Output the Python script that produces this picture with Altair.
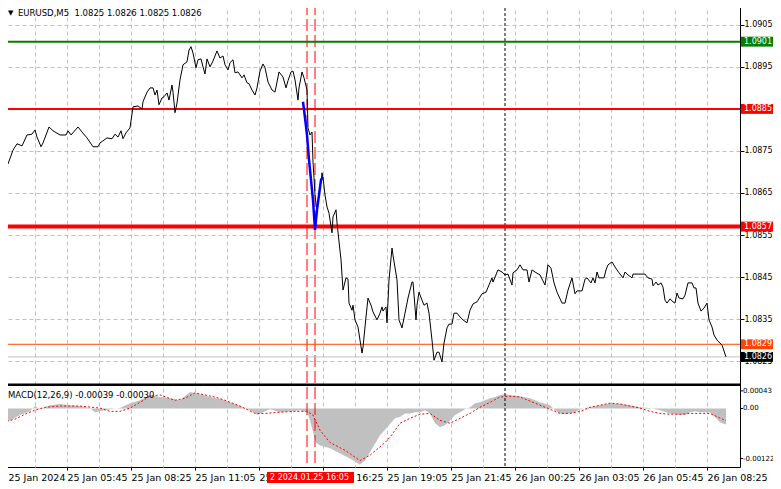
import json
import altair as alt
import pandas as pd

# ---------------- data ----------------
# close price of EURUSD M5, (bar number, close)
PRICE = [
    (0, 1.08726), (2.5, 1.08719), (5, 1.08752), (7, 1.08767), (9.5, 1.08762), (12, 1.08788), (14.5, 1.08790),
    (16, 1.08800), (17, 1.08783), (19, 1.08760), (20, 1.08769), (23, 1.08807), (25, 1.08798), (28.5, 1.08788),
    (31.5, 1.08788), (32.5, 1.08798), (34, 1.08788), (37.5, 1.08807), (39.5, 1.08795), (42, 1.08781),
    (45, 1.08760), (47.5, 1.08760), (48.5, 1.08769), (52, 1.08781), (54.5, 1.08779), (56, 1.08790),
    (57.5, 1.08783), (59, 1.08798), (60, 1.08779), (61.5, 1.08793), (63.5, 1.08805), (65, 1.08855),
    (67.5, 1.08857), (69.5, 1.08850), (70, 1.08867), (72, 1.08890), (73.5, 1.08900), (75, 1.08900),
    (76, 1.08883), (77, 1.08895), (78, 1.08860), (79.5, 1.08876), (80.5, 1.08879), (82, 1.08888),
    (83, 1.08871), (84.5, 1.08907), (85, 1.08890), (86, 1.08841), (87, 1.08864), (88.5, 1.08919),
    (90, 1.08955), (92, 1.08962), (93, 1.08990), (94, 1.08998), (95, 1.08983), (96.5, 1.08948),
    (97.5, 1.08967), (99, 1.08969), (100, 1.08950), (101, 1.08933), (102, 1.08969), (103.5, 1.08950),
    (105, 1.08964), (107, 1.08988), (108.5, 1.08971), (110, 1.08976), (111, 1.08955), (112.5, 1.08943),
    (113.5, 1.08960), (115, 1.08967), (116, 1.08936), (117.5, 1.08938), (119.5, 1.08924), (120.5, 1.08931),
    (122, 1.08912), (123, 1.08910), (124.5, 1.08895), (126, 1.08883), (127, 1.08900), (128.5, 1.08940),
    (130, 1.08957), (131, 1.08948), (132.5, 1.08914), (134.5, 1.08895), (136, 1.08890), (137, 1.08914),
    (138, 1.08938), (140, 1.08926), (141.5, 1.08900), (142.5, 1.08917), (144, 1.08938), (145, 1.08940),
    (146, 1.08919), (147.5, 1.08871), (148, 1.08900), (149.5, 1.08938), (150.5, 1.08924), (152, 1.08895),
    (152.5, 1.08805), (153.5, 1.08788), (154.5, 1.08795), (155, 1.08724), (155.5, 1.08686), (156, 1.08645),
    (157, 1.08605), (157.5, 1.08629), (158, 1.08652), (159, 1.08676), (159.5, 1.08698), (160, 1.08686),
    (161, 1.08645), (162, 1.08617), (163, 1.08602), (164.5, 1.08555), (165, 1.08593), (166.5, 1.08610),
    (167, 1.08579), (167.5, 1.08557), (169, 1.08491), (170, 1.08419), (171.5, 1.08448), (172.5, 1.08445),
    (173, 1.08388), (174.5, 1.08371), (175, 1.08383), (176, 1.08348), (177.5, 1.08331), (179.5, 1.08269),
    (180, 1.08283), (181.5, 1.08355), (182.5, 1.08400), (184, 1.08383), (185, 1.08367), (187, 1.08348),
    (188.5, 1.08364), (189.5, 1.08379), (190, 1.08369), (191.5, 1.08379), (192, 1.08341), (193, 1.08443),
    (194.5, 1.08519), (195, 1.08502), (197, 1.08443), (198, 1.08348), (199.5, 1.08329), (201, 1.08364),
    (202.5, 1.08400), (204.5, 1.08438), (205, 1.08438), (206.5, 1.08348), (207, 1.08383), (208, 1.08414),
    (209.5, 1.08395), (210.5, 1.08383), (212, 1.08388), (213, 1.08364), (214.5, 1.08300), (215.5, 1.08252),
    (217, 1.08271), (218, 1.08271), (219.5, 1.08248), (220.5, 1.08293), (222, 1.08329), (223, 1.08338),
    (224.5, 1.08338), (225.5, 1.08364), (227, 1.08364), (228.5, 1.08355), (230, 1.08348), (232, 1.08341),
    (233.5, 1.08371), (235, 1.08386), (237, 1.08391), (239.5, 1.08410), (241.5, 1.08414), (243, 1.08431),
    (244.5, 1.08448), (245, 1.08438), (247.5, 1.08467), (249.5, 1.08462), (251, 1.08455), (252.5, 1.08457),
    (254.5, 1.08431), (255, 1.08460), (257, 1.08467), (258.5, 1.08479), (260, 1.08467), (262, 1.08467),
    (263, 1.08438), (264.5, 1.08467), (266, 1.08462), (268.5, 1.08455), (271, 1.08431), (272.5, 1.08479),
    (274, 1.08471), (275.5, 1.08436), (277, 1.08414), (279.5, 1.08388), (281, 1.08388), (282.5, 1.08419),
    (284.5, 1.08448), (286, 1.08410), (287, 1.08417), (289.5, 1.08417), (291, 1.08445), (292, 1.08448),
    (294, 1.08436), (295, 1.08448), (296, 1.08436), (297, 1.08462), (298, 1.08448), (300.5, 1.08448),
    (301.5, 1.08467), (302.5, 1.08479), (304.5, 1.08486), (306, 1.08474), (308, 1.08460), (310, 1.08448),
    (311, 1.08462), (312.5, 1.08455), (314.5, 1.08448), (315, 1.08457), (317, 1.08457), (321, 1.08457),
    (322.5, 1.08448), (324.5, 1.08445), (325, 1.08429), (326.5, 1.08438), (327.5, 1.08431), (329, 1.08436),
    (330, 1.08426), (331, 1.08395), (332, 1.08388), (333.5, 1.08398), (335, 1.08391), (336, 1.08388),
    (337, 1.08412), (338, 1.08400), (340, 1.08398), (341, 1.08407), (342.5, 1.08436), (344.5, 1.08436),
    (345.5, 1.08424), (346.5, 1.08424), (347.5, 1.08388), (349, 1.08369), (350.5, 1.08376), (352, 1.08388),
    (353, 1.08348), (354.5, 1.08331), (355.5, 1.08312), (357, 1.08300), (359.5, 1.08288), (360, 1.08281),
    (361.5, 1.08260),
]

# blue highlighted move
BLUE = [(150, 1.08867), (151, 1.08829), (152, 1.08788), (153, 1.08729), (154, 1.08681), (155, 1.08633),
        (156, 1.08562), (157, 1.08610), (158, 1.08645), (159, 1.08681), (160, 1.08688)]

# MACD(12,26,9) main (histogram) and signal
MACD = [
    (0, -0.00034), (3.5, -0.00029), (8.5, -0.00016), (13.5, -0.00007), (16, 0.00006), (18.5, -0.00002),
    (23.5, 0.00008), (28.5, 0.00011), (33.5, 0.00008), (38.5, 0.00006), (43.5, 0.00001), (46, -0.00009),
    (48.5, -0.00007), (53.5, -0.00002), (58.5, 0.00001), (63.5, 0.00013), (68.5, 0.00020), (73.5, 0.00033),
    (78.5, 0.00028), (83.5, 0.00025), (88.5, 0.00020), (93.5, 0.00040), (96, 0.00038), (98.5, 0.00035),
    (103.5, 0.00028), (108.5, 0.00023), (113.5, 0.00015), (118.5, 0.00006), (123.5, -0.00004),
    (127.5, -0.00016), (131, -0.00007), (133.5, -0.00002), (138.5, -0.00009), (143.5, -0.00007),
    (148.5, -0.00004), (152, -0.00009), (153.5, -0.00029), (155, -0.00058), (156.5, -0.00083),
    (158.5, -0.00090), (163.5, -0.00097), (168.5, -0.00110), (173.5, -0.00122), (178.5, -0.00137),
    (181, -0.00127), (183.5, -0.00107), (188.5, -0.00065), (193, -0.00041), (196, -0.00024),
    (198.5, -0.00021), (201, -0.00012), (203.5, -0.00012), (206, -0.00009), (208.5, -0.00009),
    (211, -0.00004), (213.5, -0.00012), (216, -0.00036), (218.5, -0.00046), (221, -0.00041),
    (223.5, -0.00029), (226, -0.00016), (228.5, -0.00009), (231, -0.00002), (233.5, 0.00003),
    (236, 0.00013), (238.5, 0.00015), (241, 0.00020), (243.5, 0.00025), (246, 0.00028), (248.5, 0.00033),
    (251, 0.00035), (253.5, 0.00033), (258.5, 0.00030), (263.5, 0.00025), (268.5, 0.00015), (273.5, 0.00008),
    (276, -0.00004), (278.5, -0.00012), (281, -0.00014), (283.5, -0.00012), (286, -0.00009), (288.5, -0.00002),
    (293.5, 0.00003), (298.5, 0.00008), (303.5, 0.00013), (308.5, 0.00011), (313.5, 0.00008), (318.5, 0.00003),
    (323.5, 0.00001), (328.5, -0.00004), (333.5, -0.00012), (338.5, -0.00016), (341, -0.00016),
    (343.5, -0.00009), (346, -0.00007), (348.5, -0.00009), (353.5, -0.00009), (356, -0.00021),
    (358.5, -0.00034), (361.5, -0.00039),
]
SIGNAL = [
    (0, -0.00034), (6, -0.00026), (11, -0.00014), (16, -0.00004), (21, 0.00003), (28.5, 0.00006),
    (38.5, 0.00006), (48.5, 0.00001), (53.5, -0.00007), (58.5, -0.00007), (63.5, 0.00001), (68.5, 0.00015),
    (73.5, 0.00030), (78.5, 0.00033), (86, 0.00020), (91, 0.00025), (96, 0.00038), (101, 0.00033),
    (106, 0.00028), (111, 0.00020), (118.5, 0.00006), (126, -0.00012), (131, -0.00012), (138.5, -0.00009),
    (146, -0.00007), (152, -0.00007), (155, -0.00016), (158.5, -0.00053), (163.5, -0.00083), (171, -0.00102),
    (178.5, -0.00127), (183.5, -0.00114), (191, -0.00083), (193.5, -0.00070), (198.5, -0.00036),
    (203.5, -0.00024), (208.5, -0.00014), (213.5, -0.00012), (218.5, -0.00029), (223.5, -0.00036),
    (228.5, -0.00024), (233.5, -0.00012), (238.5, 0.00003), (243.5, 0.00015), (248.5, 0.00028),
    (253.5, 0.00030), (258.5, 0.00028), (263.5, 0.00018), (268.5, 0.00008), (273.5, -0.00002),
    (278.5, -0.00012), (283.5, -0.00012), (288.5, -0.00007), (293.5, 0.00003), (298.5, 0.00008),
    (303.5, 0.00013), (308.5, 0.00011), (313.5, 0.00006), (318.5, 0.00001), (323.5, -0.00007),
    (328.5, -0.00012), (333.5, -0.00014), (338.5, -0.00014), (343.5, -0.00012), (348.5, -0.00012),
    (353.5, -0.00012), (357.5, -0.00021), (361.5, -0.00030),
]

LEVEL_PRICE = [1.0901, 1.0885, 1.0857, 1.0829, 1.0826]
LEVEL_LINE_COLOR = ["#008000", "#FF0000", "#FF0000", "#FF4500", "#C0C0C0"]
LEVEL_LINE_WIDTH = [2, 2, 4, 1, 1]
LEVEL_BOX_COLOR = ["#008000", "#FF0000", "#FF0000", "#FF4500", "#000000"]

PRICE_TICKS = [1.0825, 1.0835, 1.0845, 1.0855, 1.0865, 1.0875, 1.0885, 1.0895, 1.0905]
MACD_TICKS = [0.00043, 0.0, -0.00122]
TIME_LABELS = ["25 Jan 2024", "25 Jan 05:45", "25 Jan 08:25", "25 Jan 11:05", "25 Jan 13:45",
               "25 Jan 16:25", "25 Jan 19:05", "25 Jan 21:45", "26 Jan 00:25", "26 Jan 03:05",
               "26 Jan 05:45", "26 Jan 08:25"]
RED_VLINES = [152, 156]
DOT_VLINES = [251]
TITLE = "EURUSD,M5\u00a0\u00a01.0825 1.0826 1.0825 1.0826"
MACD_TITLE = "MACD(12,26,9) -0.00039 -0.00030"
MARKER_LABEL = "2 2024.01.25 16:05"

# ---------------- frames ----------------
price_df = pd.DataFrame(PRICE, columns=["bar", "price"])
blue_df = pd.DataFrame(BLUE, columns=["bar", "price"])
macd_df = pd.DataFrame(MACD, columns=["bar", "macd"])
sig_df = pd.DataFrame(SIGNAL, columns=["bar", "macd"])
lvl_df = pd.DataFrame({"price": LEVEL_PRICE, "lc": LEVEL_LINE_COLOR, "lw": LEVEL_LINE_WIDTH,
                       "bc": LEVEL_BOX_COLOR, "label": [f"{p:.4f}" for p in LEVEL_PRICE]})
mt_df = pd.DataFrame({"macd": MACD_TICKS,
                      "label": [f"{v:.5f}" if v != 0 else "0.00" for v in MACD_TICKS]})
red_df = pd.DataFrame({"bar": RED_VLINES})
dot_df = pd.DataFrame({"bar": DOT_VLINES})
one = pd.DataFrame({"k": [0]})

W, H = 737, 464
FONT = "DejaVu Sans"

# shared time axis (bottom of the MACD window), grid through both windows
lab_expr = "datum.value % 32 == 0 ? " + json.dumps(TIME_LABELS) + "[datum.value / 32] : ''"
X = alt.X("bar:Q", scale=alt.Scale(domain=[0, 368.5], nice=False, zero=False), title=None,
          axis=alt.Axis(values=list(range(0, 353, 16)), labelExpr=lab_expr, labelAlign="left",
                        labelFlush=False, labelOverlap=False, labelBound=False, tickSize=3,
                        labelPadding=2, labelFontSize=9.5, domain=False, grid=True,
                        labelOffset={"condition": {"test": "datum.value == 0", "value": 5}, "value": 0},
                        tickOpacity={"condition": {"test": "datum.value % 32 != 0", "value": 0},
                                     "value": 1}))

# price window occupies the upper 380 px, MACD window the lower 82 px
price_scale = alt.Scale(domain=[1.07998, 1.09102], nice=False, zero=False)
macd_scale = alt.Scale(domain=[-0.001427, 0.00989], nice=False, zero=False)
Yp_axis = alt.Y("price:Q", scale=price_scale, title=None,
                axis=alt.Axis(orient="right", values=PRICE_TICKS, format=".4f", tickSize=4, labelPadding=0,
                              grid=True, domain=False, labelFontSize=8))
Yp = alt.Y("price:Q", scale=price_scale, title=None, axis=None)
Ym = alt.Y("macd:Q", scale=macd_scale, title=None, axis=None)

# ---- MACD window ----
hist = alt.Chart(macd_df).mark_area(color="#C0C0C0", opacity=1).encode(x=X, y=Ym, y2=alt.datum(0))
sig = alt.Chart(sig_df).mark_line(color="#FF0000", strokeDash=[2, 2], strokeWidth=1).encode(x=X, y=Ym)
macd_tick = alt.Chart(mt_df).mark_rule(color="black").encode(
    y=Ym, x=alt.value(W), x2=alt.value(W + 3))
macd_lab = alt.Chart(mt_df).mark_text(align="left", baseline="middle", font=FONT, fontSize=7,
                                      color="black").encode(y=Ym, x=alt.value(W + 3), text="label:N")
macd_title = alt.Chart(one).mark_text(align="left", baseline="middle", font=FONT, fontSize=8.5,
                                      color="black", text=MACD_TITLE).encode(
    x=alt.value(5), y=alt.value(392))
separator = alt.Chart(one).mark_rule(color="black", strokeWidth=2.5).encode(
    x=alt.value(0), x2=alt.value(W), y=alt.value(381.8))

# ---- price window ----
price_line = alt.Chart(price_df).mark_line(color="black", strokeWidth=1).encode(x=X, y=Yp_axis)
blue_line = alt.Chart(blue_df).mark_line(color="#0000FF", strokeWidth=2.5).encode(x=X, y=Yp)
levels = alt.Chart(lvl_df).mark_rule().encode(
    y=Yp, color=alt.Color("lc:N", scale=None), strokeWidth=alt.StrokeWidth("lw:Q", scale=None))
red_v = alt.Chart(red_df).mark_rule(color="#FF0000", strokeDash=[12, 4], strokeWidth=1).encode(x=X)
dot_v = alt.Chart(dot_df).mark_rule(color="black", strokeDash=[3, 2], strokeWidth=1).encode(x=X)
boxes = alt.Chart(lvl_df).mark_point(shape="M-1,-0.31H1V0.31H-1Z", size=1024, filled=True,
                                     opacity=1, strokeWidth=0).encode(
    x=alt.value(W + 17), y=Yp, fill=alt.Fill("bc:N", scale=None))
box_text = alt.Chart(lvl_df).mark_text(align="left", baseline="middle", color="white",
                                       font=FONT, fontSize=8).encode(
    x=alt.value(W + 4), y=Yp, text="label:N")
tri = alt.Chart(one).mark_text(align="left", baseline="middle", font=FONT, fontSize=7, color="black",
                               text="\u25BC").encode(x=alt.value(5), y=alt.value(10))
title = alt.Chart(one).mark_text(align="left", baseline="middle", font=FONT, fontSize=8.5, color="black",
                                 text=TITLE).encode(x=alt.value(15), y=alt.value(10))

# ---- time marker label over the time axis ----
marker_box = alt.Chart(one).mark_rect(color="#FF0000").encode(
    x=alt.value(264), x2=alt.value(351), y=alt.value(H + 5), y2=alt.value(H + 16))
marker_text = alt.Chart(one).mark_text(align="left", baseline="middle", font=FONT, fontSize=8,
                                       color="white", text=MARKER_LABEL).encode(
    x=alt.value(267), y=alt.value(H + 10.5))

chart = alt.layer(
    hist, sig, red_v, dot_v, levels, price_line, blue_line, separator,
    macd_tick, macd_lab, macd_title, boxes, box_text, tri, title, marker_box, marker_text,
).resolve_scale(y="independent").properties(
    width=W, height=H,
    autosize=alt.AutoSizeParams(type="none"),
    padding={"left": -5, "top": -5, "right": 33, "bottom": 18},
    background="white",
).configure_view(stroke="black", strokeWidth=1).configure_axis(
    labelFont=FONT, labelColor="black", tickColor="black", gridColor="#C0C0C0",
    gridDash=[4, 3], gridWidth=1,
)

chart.save("out.html", embed_options={"renderer": "svg", "actions": False})
